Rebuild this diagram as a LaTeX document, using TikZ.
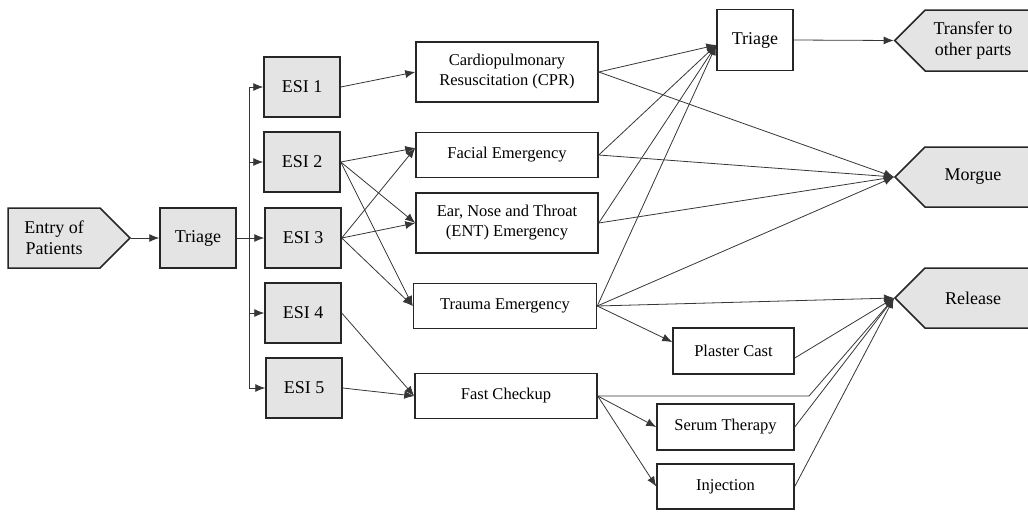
\documentclass[tikz,border=0pt]{standalone}
\usepackage{fontspec}
\setmainfont{Liberation Serif}
\usetikzlibrary{arrows.meta,shapes.symbols}
\definecolor{boxfill}{HTML}{E4E4E4}
\definecolor{boxline}{HTML}{262626}
\definecolor{edgecol}{HTML}{363636}
\begin{document}
\begin{tikzpicture}[x=1pt,y=-1pt,
  graybox/.style={draw=boxline,line width=1.5pt,fill=boxfill,align=center,inner sep=0pt,font=\fontsize{18}{21}\selectfont},
  whitebox/.style={draw=boxline,line width=1.5pt,fill=white,align=center,inner sep=0pt,font=\fontsize{16.5}{20}\selectfont},
  bigwhite/.style={whitebox,font=\fontsize{18}{21}\selectfont},
  pentR/.style={graybox,signal,signal to=east,signal pointer angle=90},
  pentL/.style={graybox,signal,signal to=west,signal pointer angle=90,minimum width=186pt},
  conn/.style={draw=edgecol,line width=0.8pt},
  arr/.style={conn,-{Latex[length=10pt,width=8pt]}}
]
\useasboundingbox (0,0) rectangle (1028,512);
\clip (0,0) rectangle (1028,512);

% left column
\node[pentR,minimum width=122pt,minimum height=60pt] (entry) at (54,238) {Entry of\\Patients};
\node[graybox,minimum width=76pt,minimum height=60pt] (triage1) at (198,238) {Triage};

\node[graybox,minimum width=76pt,minimum height=60pt] (esi1) at (302,87) {ESI 1};
\node[graybox,minimum width=76pt,minimum height=60pt] (esi2) at (302,162) {ESI 2};
\node[graybox,minimum width=76pt,minimum height=60pt] (esi3) at (303,238) {ESI 3};
\node[graybox,minimum width=76pt,minimum height=60pt] (esi4) at (303,313) {ESI 4};
\node[graybox,minimum width=76pt,minimum height=60pt] (esi5) at (304,388) {ESI 5};

% middle column
\node[whitebox,minimum width=182pt,minimum height=60pt] (cpr) at (507,72) {Cardiopulmonary\\Resuscitation (CPR)};
\node[whitebox,minimum width=182pt,minimum height=45pt] (facial) at (507,155) {Facial Emergency};
\node[whitebox,minimum width=182pt,minimum height=60pt] (ent) at (507,223) {Ear, Nose and Throat\\(ENT) Emergency};
\node[whitebox,minimum width=183pt,minimum height=45pt] (trauma) at (505,306) {Trauma Emergency};
\node[whitebox,minimum width=182pt,minimum height=45pt] (fast) at (506,396) {Fast Checkup};

% right column
\node[bigwhite,minimum width=76pt,minimum height=61pt] (triage2) at (755,40) {Triage};
\node[whitebox,minimum width=121pt,minimum height=46pt] (plaster) at (733.5,351) {Plaster Cast};
\node[whitebox,minimum width=137pt,minimum height=46pt] (serum) at (725.5,427) {Serum Therapy};
\node[whitebox,minimum width=137pt,minimum height=45pt] (inj) at (725.5,486.5) {Injection};

\node[pentL,minimum height=61pt] (transfer) at (1003,40.5) {\begin{tabular}{@{}c@{}}Transfer to\\other parts\end{tabular}\hspace{60pt}};
\node[pentL,minimum height=60pt] (morgue) at (1003,177) {Morgue\hspace{60pt}};
\node[pentL,minimum height=60pt] (release) at (1003,298) {Release\hspace{60pt}};

% entry to triage, bus
\draw[arr] (entry.east) -- (triage1.west);
\coordinate (b1) at (249,87);
\coordinate (b2) at (249,162);
\coordinate (b4) at (249,313);
\coordinate (b5) at (249,388);
\draw[conn] (b1) -- (b5);
\draw[arr] (triage1.east) -- (esi3.west);
\draw[arr] (b1) -- (esi1.west);
\draw[arr] (b2) -- (esi2.west);
\draw[arr] (b4) -- (esi4.west);
\draw[arr] (b5) -- (esi5.west);

% ESI to middle
\draw[arr] (esi1.east) -- (cpr.west);
\draw[arr] (esi2.east) -- ([yshift=7pt]facial.west);
\draw[arr] (esi2.east) -- (ent.west);
\draw[arr] (esi2.east) -- (trauma.west);
\draw[arr] (esi3.east) -- ([yshift=7pt]facial.west);
\draw[arr] (esi3.east) -- (ent.west);
\draw[arr] (esi3.east) -- (trauma.west);
\draw[arr] (esi4.east) -- (fast.west);
\draw[arr] (esi5.east) -- (fast.west);

% middle to right
\foreach \n in {cpr,facial,ent,trauma}{
  \draw[arr] (\n.east) -- ([yshift=-5pt]triage2.west);
  \draw[arr] (\n.east) -- (morgue.west);
}
\draw[arr] (triage2.east) -- (transfer.west);
\draw[arr] (trauma.east) -- (release.west);
\draw[arr] (trauma.east) -- ([yshift=9pt]plaster.west);
\coordinate (fk) at (809,396);
\draw[arr] (fast.east) -- (fk) -- (release.west);
\draw[arr] (fast.east) -- (serum.west);
\draw[arr] (fast.east) -- (inj.west);
\draw[arr] ([yshift=-7pt]plaster.east) -- (release.west);
\draw[arr] (serum.east) -- (release.west);
\draw[arr] (inj.east) -- (release.west);
\end{tikzpicture}
\end{document}
